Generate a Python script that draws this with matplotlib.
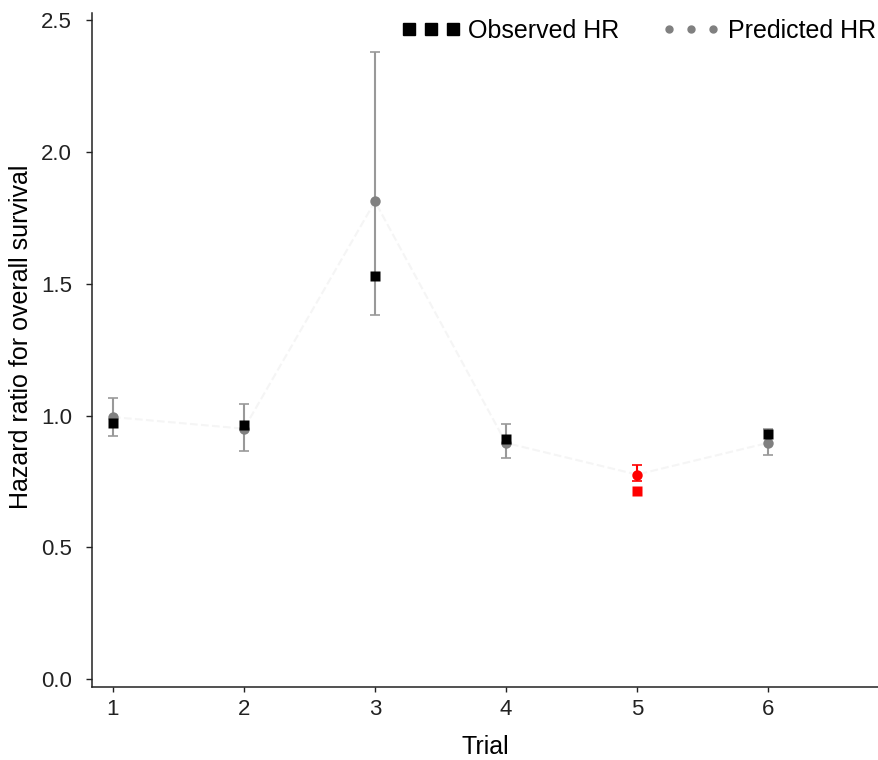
import numpy as np
import matplotlib.pyplot as plt
from matplotlib.lines import Line2D

plt.rcParams['font.family'] = ['Liberation Sans', 'DejaVu Sans']

trial = np.array([1, 2, 3, 4, 5, 6])
observed = np.array([0.970, 0.963, 1.530, 0.909, 0.713, 0.928])
predicted = np.array([0.994, 0.950, 1.812, 0.896, 0.776, 0.896])
ci_low = np.array([0.924, 0.865, 1.380, 0.838, 0.751, 0.851])
ci_high = np.array([1.067, 1.044, 2.378, 0.966, 0.814, 0.947])
colors = ['black', 'black', 'black', 'black', 'red', 'black']
pred_colors = ['#808080', '#808080', '#808080', '#808080', 'red', '#808080']

fig = plt.figure(figsize=(8.79, 7.60), dpi=100)
ax = fig.add_axes([92 / 879, 73 / 760, 786 / 879, 674 / 760])

# faint line through predicted values
ax.plot(trial, predicted, color='#f5f5f5', lw=1.5, ls='--', zorder=1)

for i in range(len(trial)):
    ecol = 'red' if colors[i] == 'red' else '#999999'
    ax.errorbar(trial[i], predicted[i],
                yerr=[[predicted[i] - ci_low[i]], [ci_high[i] - predicted[i]]],
                fmt='none', ecolor=ecol, elinewidth=1.5, capsize=3.5, capthick=1.2, zorder=2)
    ax.plot(trial[i], predicted[i], 'o', color=pred_colors[i], ms=7.5, mec='none', zorder=3)
    ax.plot(trial[i], observed[i], 's', color=colors[i], ms=7, mec='none', zorder=4)

ax.set_xlim(0.84, 6.84)
ax.set_ylim(-0.03, 2.527)
ax.set_xticks(trial)
ax.set_yticks([0.0, 0.5, 1.0, 1.5, 2.0, 2.5])
ax.set_yticklabels(['0.0', '0.5', '1.0', '1.5', '2.0', '2.5'])
ax.tick_params(labelsize=16, width=1.0, colors='#222222')
ax.tick_params(axis='y', length=4.5, pad=10)
ax.tick_params(axis='x', length=3.6, pad=5)
ax.spines['top'].set_visible(False)
ax.spines['right'].set_visible(False)
for s in ['left', 'bottom']:
    ax.spines[s].set_linewidth(1.1)
    ax.spines[s].set_color('#222222')
ax.set_xlabel('Trial', fontsize=18)
ax.set_ylabel('Hazard ratio for overall survival', fontsize=18)
ax.xaxis.set_label_coords(0.5, (687 - 735) / 674)
ax.yaxis.set_label_coords((33 - 92) / 786, 0.52)

handles = [Line2D([], [], ls='none', marker='s', color='black', ms=8.6),
           Line2D([], [], ls='none', marker='o', color='#808080', ms=5)]
fig.legend(handles, ['Observed HR', 'Predicted HR'], ncol=2, numpoints=3,
           frameon=False, fontsize=18, loc='center right',
           bbox_to_anchor=(876 / 879, 1 - 31 / 760), borderpad=0, borderaxespad=0,
           handlelength=2.36, handletextpad=0.3, columnspacing=1.7)

fig.savefig('out.png')
